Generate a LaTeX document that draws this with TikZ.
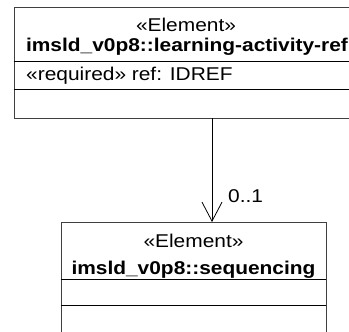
\documentclass[tikz,border=0pt]{standalone}
\usepackage{fontspec}
\setmainfont[FakeStretch=1.13]{Liberation Sans}
\usetikzlibrary{arrows.meta,positioning,calc}
\definecolor{umlline}{HTML}{404040}
\newcommand{\umlfont}{\fontsize{18.5}{21}\selectfont}

\begin{document}
\begin{tikzpicture}[x=1pt,y=1pt,
  cls/.style={draw=umlline,line width=0.9pt,minimum width=#1,
              minimum height=111pt,inner sep=0pt},
  divider/.style={draw=black,line width=0.8pt},
  label/.style={font=\umlfont,inner sep=0pt,anchor=base},
  assoc/.style={-{Straight Barb[length=19pt,width=20pt]},draw=black,line width=0.8pt}]
\useasboundingbox (0,0) rectangle (349,-332);
\clip (0,0) rectangle (349,-332);
\fill[white] (0,0) rectangle (349,-332);

% learning-activity-ref class
\node[cls=344pt] (actref) at (186,-62.5) {};
\node[label] (actrefst) at (186,-31.7) {«Element»};
\node[label] (actrefname) at (187,-52) {\textbf{imsld\_v0p8::learning-activity-ref}};
\draw[divider] (actref.west |- 0,-61) -- (actref.east |- 0,-61);
\node[label,anchor=base west] (actrefattr) at (26,-81) {«required» ref: IDREF};
\draw[divider] (actref.west |- 0,-89) -- (actref.east |- 0,-89);

% sequencing class
\node[cls=265pt] (seq) at (193.5,-277.5) {};
\node[label] (seqst) at (193.5,-247.5) {«Element»};
\node[label] (seqname) at (193.5,-274.5) {\textbf{imsld\_v0p8::sequencing}};
\draw[divider] (seq.west |- 0,-279) -- (seq.east |- 0,-279);
\draw[divider] (seq.west |- 0,-305) -- (seq.east |- 0,-305);

% association
\coordinate (assocend) at (212,-222);
\draw[assoc] (assocend |- actref.south) -- (assocend);
\node[label,anchor=base west] (mult) at (228,-202) {0..1};
\end{tikzpicture}
\end{document}
